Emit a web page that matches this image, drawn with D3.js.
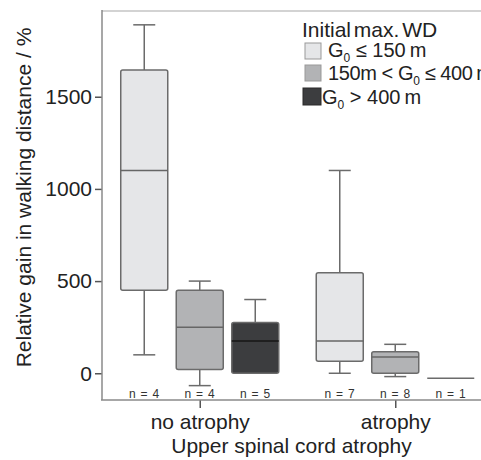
<!DOCTYPE html>
<html>
<head>
<meta charset="utf-8">
<script src="https://cdn.jsdelivr.net/npm/d3@7/dist/d3.min.js"></script>
<style>
  html, body { margin: 0; padding: 0; background: #ffffff; }
  svg { display: block; }
  text { font-family: "Liberation Sans", Arial, Helvetica, sans-serif; }
</style>
</head>
<body>
<svg id="chart" width="481" height="460"></svg>
<script>
// ---- data ----
const groups = ["no atrophy", "atrophy"];
const subgroups = ["low", "mid", "high"];
const boxGroup = ["no atrophy", "no atrophy", "no atrophy", "atrophy", "atrophy", "atrophy"];
const boxSub = ["low", "mid", "high", "low", "mid", "high"];
const boxColorKey = ["low", "mid", "high", "low", "mid", "low"];
const whiskerLow = [100, -67, 0, 0, -18, -27];
const q1 = [450, 20, 0, 65, 0, -27];
const median = [1100, 250, 175, 175, 88, -27];
const q3 = [1645, 450, 275, 545, 117, -27];
const whiskerHigh = [1890, 500, 400, 1100, 157, -27];
const nLabels = ["n = 4", "n = 4", "n = 5", "n = 7", "n = 8", "n = 1"];
const yTicks = [0, 500, 1000, 1500];
const legendTitle = "Initial max. WD";

const fills = { low: "#e5e6e8", mid: "#b2b3b5", high: "#3c3d3f" };
const medianColors = { low: "#666", mid: "#666", high: "#161616" };

// ---- layout ----
const svg = d3.select("#chart");
const mLeft = 102, mTop = 11, mBottom = 400, mRight = 493;

const y = d3.scaleLinear().domain([-145, 1965]).range([mBottom, mTop]);
const xg = d3.scalePoint().domain(groups).range([mLeft, mRight]).padding(0.5);
const xs = d3.scaleBand().domain(subgroups).range([-83.25, 83.25]).paddingInner(0.153).paddingOuter(0.0765);
const bw = xs.bandwidth();
const capW = 22;
const strokeC = "#6b6b6b";

// frame: top border
svg.append("line").attr("x1", mLeft).attr("x2", 481).attr("y1", mTop).attr("y2", mTop)
  .attr("stroke", "#c4c4c4").attr("stroke-width", 1.5);

// boxes
const data = boxGroup.map((g, i) => ({
  g, s: boxSub[i], c: boxColorKey[i], lo: whiskerLow[i], q1: q1[i], med: median[i],
  q3: q3[i], hi: whiskerHigh[i], n: nLabels[i]
}));

const bx = d => xg(d.g) + xs(d.s);
const cx = d => bx(d) + bw / 2;

const bg = svg.append("g");
data.forEach((d, i) => {
  const g = bg.append("g");
  if (d.q1 === d.q3) {
    g.append("line").attr("x1", bx(d)).attr("x2", bx(d) + bw)
      .attr("y1", y(d.med)).attr("y2", y(d.med))
      .attr("stroke", strokeC).attr("stroke-width", 1.6);
    return;
  }
  if (d.hi > d.q3) {
    g.append("line").attr("x1", cx(d)).attr("x2", cx(d)).attr("y1", y(d.hi)).attr("y2", y(d.q3))
      .attr("stroke", strokeC).attr("stroke-width", 1.5);
    g.append("line").attr("x1", cx(d) - capW / 2).attr("x2", cx(d) + capW / 2).attr("y1", y(d.hi)).attr("y2", y(d.hi))
      .attr("stroke", strokeC).attr("stroke-width", 1.5);
  }
  if (d.lo < d.q1) {
    g.append("line").attr("x1", cx(d)).attr("x2", cx(d)).attr("y1", y(d.q1)).attr("y2", y(d.lo))
      .attr("stroke", strokeC).attr("stroke-width", 1.5);
    g.append("line").attr("x1", cx(d) - capW / 2).attr("x2", cx(d) + capW / 2).attr("y1", y(d.lo)).attr("y2", y(d.lo))
      .attr("stroke", strokeC).attr("stroke-width", 1.5);
  }
  g.append("rect").attr("x", bx(d)).attr("width", bw)
    .attr("y", y(d.q3)).attr("height", y(d.q1) - y(d.q3))
    .attr("rx", 2).attr("ry", 2)
    .attr("fill", fills[d.c]).attr("stroke", strokeC).attr("stroke-width", 1.5);
  g.append("line").attr("x1", bx(d)).attr("x2", bx(d) + bw).attr("y1", y(d.med)).attr("y2", y(d.med))
    .attr("stroke", medianColors[d.c]).attr("stroke-width", 1.6);
});

// n labels
svg.append("g").selectAll("text").data(data).join("text")
  .attr("x", d => cx(d)).attr("y", 397.5).attr("text-anchor", "middle")
  .style("font-size", "12px").style("letter-spacing", "0.3px").style("word-spacing", "1px")
  .style("fill", "#333").text(d => d.n);

// y axis
const yAxis = svg.append("g").attr("transform", `translate(${mLeft},0)`)
  .call(d3.axisLeft(y).tickValues(yTicks).tickFormat(d3.format("d")).tickSize(7).tickPadding(3).tickSizeOuter(0));
yAxis.select(".domain").remove();
yAxis.append("line").attr("x1", 0).attr("x2", 0).attr("y1", mTop - 1).attr("y2", mBottom)
  .attr("stroke", "#8a8a8a").attr("stroke-width", 1.5);
yAxis.selectAll(".tick line").attr("stroke", "#555").attr("stroke-width", 1.5);
yAxis.selectAll(".tick text").style("font-size", "21px").style("fill", "#222")
  .style("font-family", "'Liberation Sans', Arial, sans-serif");

// x axis
const xAxis = svg.append("g").attr("transform", `translate(0,${mBottom})`)
  .call(d3.axisBottom(xg).tickSize(8).tickPadding(6).tickSizeOuter(0));
xAxis.select(".domain").remove();
xAxis.append("line").attr("x1", mLeft - 1).attr("x2", 481).attr("y1", 0).attr("y2", 0)
  .attr("stroke", "#8a8a8a").attr("stroke-width", 1.5);
xAxis.selectAll(".tick line").attr("stroke", "#555").attr("stroke-width", 1.5);
xAxis.selectAll(".tick text").style("font-size", "21px").style("fill", "#222")
  .style("font-family", "'Liberation Sans', Arial, sans-serif");

// axis titles
svg.append("text").attr("x", (mLeft + 481) / 2).attr("y", 453).attr("text-anchor", "middle")
  .style("font-size", "21px").style("fill", "#222").text("Upper spinal cord atrophy");
svg.append("text").attr("transform", "translate(31,197.5) rotate(-90)").attr("text-anchor", "middle")
  .style("font-size", "21px").style("fill", "#222").text("Relative gain in walking distance / %");

// legend
const lg = svg.append("g");
lg.append("text").attr("x", 302).attr("y", 37).style("font-size", "21px").style("fill", "#222")
  .style("word-spacing", "-3px").text(legendTitle);
const legendRows = [
  { key: "low", sx: 305, sy: 43, sw: 16, sh: 16, tx: 328, ty: 57, ls: 0, parts: [["G", 0], ["0", 1], [" \u2264 150\u2009m", 0]] },
  { key: "mid", sx: 305, sy: 65, sw: 16, sh: 16, tx: 328, ty: 80, ls: -0.4, parts: [["150m < G", 0], ["0", 1], [" \u2264 400\u2009m", 0]] },
  { key: "high", sx: 303, sy: 88, sw: 18, sh: 17, tx: 322, ty: 104, ls: 0, parts: [["G", 0], ["0", 1], [" > 400\u2009m", 0]] }
];
legendRows.forEach(r => {
  lg.append("rect").attr("x", r.sx).attr("y", r.sy).attr("width", r.sw).attr("height", r.sh)
    .attr("fill", fills[r.key]).attr("stroke", r.key === "high" ? "#2a2a2a" : "#999").attr("stroke-width", 1);
  const t = lg.append("text").attr("x", r.tx).attr("y", r.ty).style("font-size", "20px")
    .style("fill", "#222").style("letter-spacing", r.ls + "px");
  r.parts.forEach(([s, sub], k) => {
    const ts = t.append("tspan").text(s);
    if (sub) ts.style("font-size", "12px").attr("dy", 5);
    else if (k > 0) ts.attr("dy", -5);
  });
});
</script>
</body>
</html>
